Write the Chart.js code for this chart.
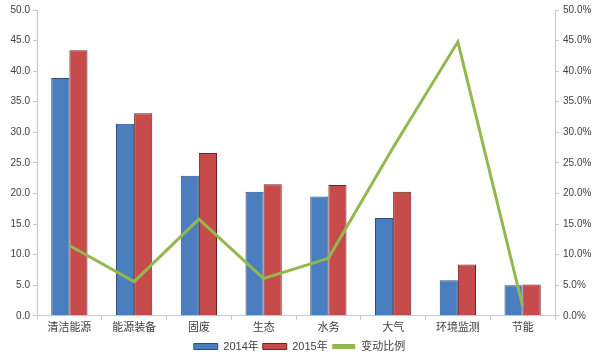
<!DOCTYPE html>
<html>
<head>
<meta charset="utf-8">
<script src="https://cdn.jsdelivr.net/npm/chart.js@4"></script>
<style>
  html, body { margin: 0; padding: 0; background: #fff; }
  #wrap { width: 599px; height: 362px; }
</style>
</head>
<body>
<div id="wrap"><canvas id="chart" width="599" height="362"></canvas></div>
<script>
var categories = ['清洁能源', '能源装备', '固废', '生态', '水务', '大气', '环境监测', '节能'];
var values2014 = [38.9, 31.4, 22.9, 20.3, 19.5, 16.0, 5.8, 5.0];
var values2015 = [43.4, 33.1, 26.6, 21.5, 21.4, 20.3, 8.4, 5.1];
var changeRatio = [11.5, 5.6, 15.8, 6.1, 9.4, 27.5, 44.8, 1.6];

var FONT = '"Liberation Sans", "Noto Sans CJK SC", sans-serif';
var legendFills = ['#4a7ebf', '#c84b4b', '#94b84e'];

function barFill(base, light, dark) {
    return function (context) {
        var chart = context.chart;
        var el = context.element;
        if (!chart.chartArea || !el || el.width === undefined) return base;
        var x0 = el.x - el.width / 2, x1 = el.x + el.width / 2;
        var g = chart.ctx.createLinearGradient(x0, 0, x1, 0);
        g.addColorStop(0, light);
        g.addColorStop(0.35, base);
        g.addColorStop(0.85, base);
        g.addColorStop(1, dark);
        return g;
    };
}

var ctx = document.getElementById('chart');
var chart = new Chart(ctx, {
    type: 'bar',
    data: {
        labels: categories,
        datasets: [{
            label: '2014年',
            data: values2014,
            yAxisID: 'y',
            backgroundColor: barFill('#4a7ebf', '#6f9bd6', '#2c4f80'),
            borderColor: '#2f4f7a',
            borderWidth: 1,
            categoryPercentage: 0.56,
            barPercentage: 1.0,
            order: 2
        }, {
            label: '2015年',
            data: values2015,
            yAxisID: 'y',
            backgroundColor: barFill('#c84b4b', '#e07070', '#7a2424'),
            borderColor: '#6e2222',
            borderWidth: 1,
            categoryPercentage: 0.56,
            barPercentage: 1.0,
            order: 2
        }, {
            type: 'line',
            label: '变动比例',
            data: changeRatio,
            yAxisID: 'y1',
            borderColor: '#94b84e',
            backgroundColor: '#94b84e',
            borderWidth: 3,
            pointRadius: 0,
            tension: 0,
            order: 1
        }]
    },
    options: {
        responsive: false,
        animation: false,
        layout: { padding: { top: 7, left: 0, right: 0, bottom: 0 } },
        plugins: {
            legend: {
                position: 'bottom',
                labels: {
                    font: { family: FONT, size: 11 },
                    color: '#404040',
                    boxWidth: 24,
                    boxHeight: 6,
                    padding: 4,
                    sort: function (a, b) { return a.datasetIndex - b.datasetIndex; },
                    generateLabels: function (chart) {
                        var items = Chart.defaults.plugins.legend.labels.generateLabels(chart);
                        items.forEach(function (it) {
                            it.fillStyle = legendFills[it.datasetIndex];
                            if (it.datasetIndex === 2) {
                                it.strokeStyle = '#ffffff';
                                it.lineWidth = 1;
                            } else {
                                it.strokeStyle = it.datasetIndex === 0 ? '#2f4f7a' : '#6e2222';
                                it.lineWidth = 1;
                            }
                        });
                        return items;
                    }
                }
            },
            tooltip: { enabled: false }
        },
        scales: {
            x: {
                grid: { drawOnChartArea: false, tickLength: 4, color: '#c8c8c8' },
                border: { color: '#c8c8c8' },
                ticks: { font: { family: FONT, size: 11 }, color: '#404040', maxRotation: 0, padding: 2 }
            },
            y: {
                position: 'left',
                min: 0,
                max: 50,
                grid: { drawOnChartArea: false, tickLength: 4, color: '#c8c8c8' },
                border: { color: '#c8c8c8' },
                ticks: {
                    stepSize: 5,
                    font: { family: FONT, size: 10 },
                    color: '#404040',
                    padding: 3,
                    callback: function (v) { return v.toFixed(1); }
                },
                afterFit: function (scale) { scale.width = 37; }
            },
            y1: {
                position: 'right',
                min: 0,
                max: 50,
                grid: { drawOnChartArea: false, tickLength: 4, color: '#c8c8c8' },
                border: { color: '#c8c8c8' },
                ticks: {
                    stepSize: 5,
                    font: { family: FONT, size: 10 },
                    color: '#404040',
                    padding: 4,
                    callback: function (v) { return v.toFixed(1) + '%'; }
                },
                afterFit: function (scale) { scale.width = 44; }
            }
        }
    }
});
</script>
</body>
</html>
